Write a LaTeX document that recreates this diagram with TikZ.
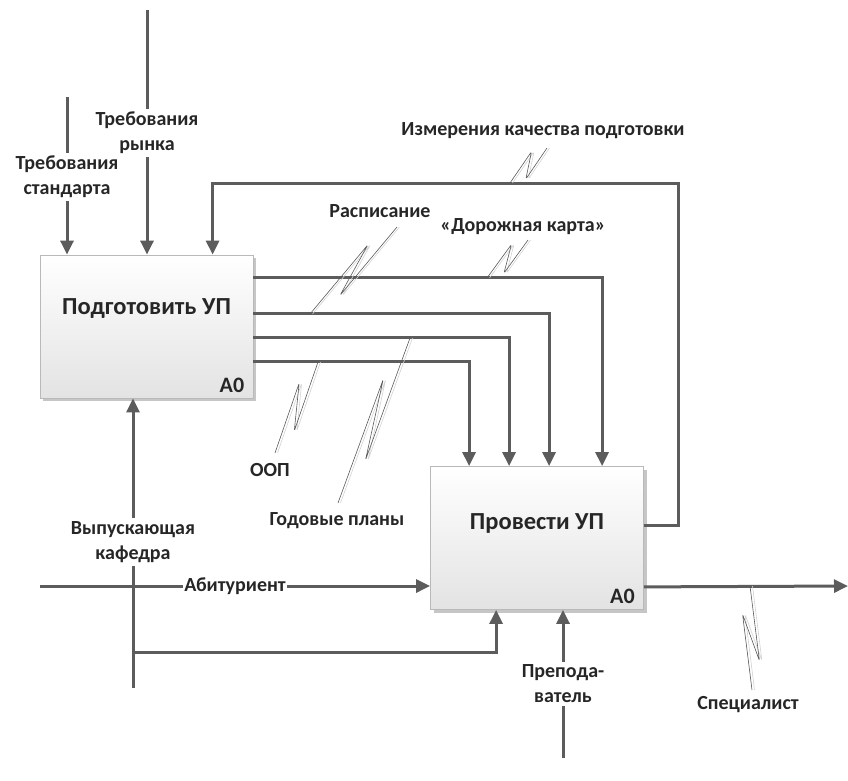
\documentclass[tikz,border=0pt]{standalone}
\usepackage{fontspec}
\setmainfont{Carlito}
\usetikzlibrary{calc,arrows.meta,shadows}

\definecolor{linegray}{HTML}{5C5C5C}
\definecolor{textgray}{HTML}{262626}

\tikzset{
  flow/.style={draw=linegray, line width=3pt},
  arr/.style={flow, -{Triangle[length=14pt,width=13pt]}},
  func/.style={draw=gray!55, line width=0.8pt, rectangle, minimum width=213pt, minimum height=143pt,
    top color=white, bottom color=gray!22,
    drop shadow={shadow xshift=3pt, shadow yshift=-3pt, fill=gray!45, opacity=1}},
  title/.style={font=\fontsize{24.5}{28}\selectfont\bfseries, text=textgray},
  num/.style={font=\fontsize{22}{26}\selectfont\bfseries, text=textgray, anchor=south east, inner xsep=9pt, inner ysep=6pt},
  lab/.style={font=\fontsize{20}{25}\selectfont\bfseries, text=textgray, align=center, inner sep=3pt},
}

% squiggle from the lower end #1 to the upper end #2
\newcommand{\squig}[2]{%
  \foreach \sx/\sc in {2.5/gray!35, 0/gray!70!black}{
    \draw[\sc, line width=0.6pt, rounded corners=1.5pt, transform canvas={xshift=\sx pt}]
      (#1) -- ($(#1)!0.73!(#2)!8pt!90:(#2)$) -- ($(#1)!0.28!(#2)!8pt!-90:(#2)$) -- (#2);
  }%
}

\begin{document}
\begin{tikzpicture}[x=1pt, y=-1pt]
  \useasboundingbox (0,0) rectangle (848,780);

  % functions
  \node[func] (prep) at (146.5,326.5) {};
  \node[func] (prov) at (537,538) {};
  \node[title] at ($(prep.center)+(0,-18)$) {Подготовить УП};
  \node[title] at ($(prov.center)+(0,-15)$) {Провести УП};
  \node[num] at (prep.south east) {А0};
  \node[num] at (prov.south east) {А0};

  % outputs of A0 to Провести УП
  \foreach \dy/\dx in {23/172, 59/119, 83/79, 107/39}
    \draw[arr] ($(prep.north east)+(0,\dy)$) -| ($(prov.north west)+(\dx,0)$);

  % feedback
  \coordinate (fb) at (678,183);
  \draw[arr] ($(prov.north east)+(0,59)$) -| (fb) -| ($(prep.north west)+(173,0)$);

  % output
  \coordinate (out) at (848,586);
  \draw[arr] ($(prov.south east)+(0,-23)$) -- (out);

  % input
  \coordinate (abin) at (40,586);
  \node[lab, inner xsep=1pt] (abit) at (235,586) {Абитуриент};
  \draw[flow] (abin) -- (abit.west);
  \draw[arr] (abit.east) -- (abit.east -| prov.west);

  % controls
  \coordinate (ts0) at (67,97);
  \node[lab] (tst) at (67,177) {Требования\\стандарта};
  \draw[flow] (ts0) -- (tst.north);
  \draw[arr] (tst.south) -- (tst.south |- prep.north);

  \coordinate (tr0) at (147,10);
  \node[lab] (trn) at (147,133) {Требования\\рынка};
  \draw[flow] (tr0) -- (trn.north);
  \draw[arr] (trn.south) -- (trn.south |- prep.north);

  % mechanisms
  \coordinate (vk0) at (133,688);
  \node[lab] (vyp) at (133,542) {Выпускающая\\кафедра};
  \draw[flow] (vk0) -- (vyp.south);
  \draw[arr] (vyp.north) -- (vyp.north |- prep.south);
  \coordinate (br) at (133,652);
  \draw[arr] (br) -| ($(prov.south west)+(66,0)$);

  \coordinate (pr0) at (563,758);
  \node[lab] (prp) at (563,684) {Препода-\\ватель};
  \draw[flow] (pr0) -- (prp.south);
  \draw[arr] (prp.north) -- (prp.north |- prov.south);

  % arrow labels with squiggles
  \node[lab] (izm) at (543,131) {Измерения качества подготовки};
  \node[lab] (rasp) at (380,211) {Расписание};
  \node[lab] (dk) at (523,227) {«Дорожная карта»};
  \node[lab] (oop) at (270,470) {ООП};
  \node[lab] (gp) at (337,521) {Годовые планы};
  \node[lab] (spec) at (748,705) {Специалист};

  \coordinate (izm-a) at (510,183);  \coordinate (izm-b) at (547,148);
  \coordinate (rasp-a) at (310,314); \coordinate (rasp-b) at (397,227);
  \coordinate (dk-a) at (487,278);   \coordinate (dk-b) at (528,240);
  \coordinate (oop-a) at (275,453);  \coordinate (oop-b) at (318,362);
  \coordinate (gp-a) at (338,503);   \coordinate (gp-b) at (410,338);
  \coordinate (spec-a) at (752,690); \coordinate (spec-b) at (750,586);
  \squig{izm-a}{izm-b}
  \squig{rasp-a}{rasp-b}
  \squig{dk-a}{dk-b}
  \squig{oop-a}{oop-b}
  \squig{gp-a}{gp-b}
  \squig{spec-a}{spec-b}
\end{tikzpicture}
\end{document}
